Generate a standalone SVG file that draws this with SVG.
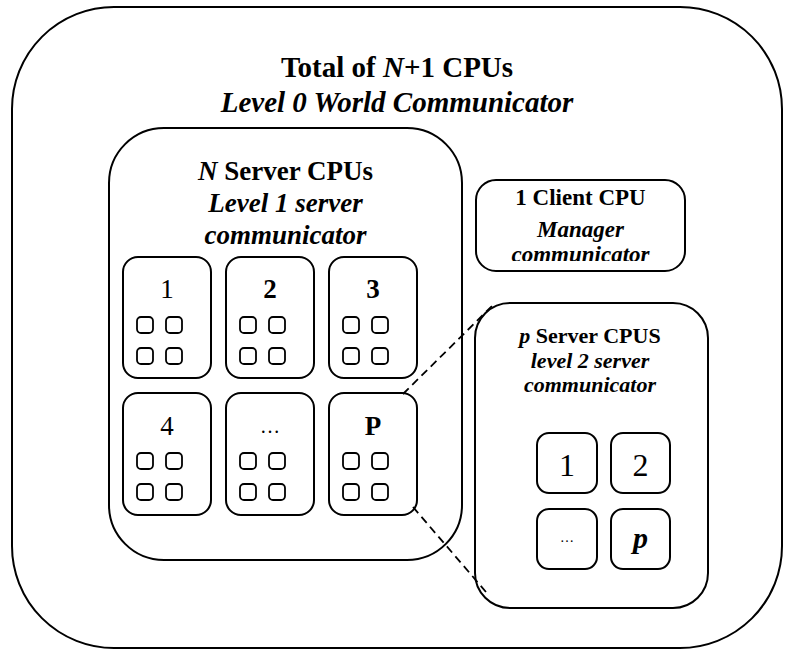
<svg xmlns="http://www.w3.org/2000/svg" width="788" height="650" viewBox="0 0 788 650">
<style>
.box{fill:none;stroke:#000;stroke-width:2}
.sq{fill:none;stroke:#000;stroke-width:1.8}
.t{font-family:"Liberation Serif","Times New Roman",serif;fill:#000;text-anchor:middle}
.b{font-weight:bold}
.i{font-style:italic}
.dash{fill:none;stroke:#000;stroke-width:1.8;stroke-dasharray:8 5}
</style>
<defs>
<g id="quad">
<rect class="sq" x="14" y="60" width="16" height="16" rx="4"/>
<rect class="sq" x="43" y="60" width="16" height="16" rx="4"/>
<rect class="sq" x="14" y="91" width="16" height="16" rx="4"/>
<rect class="sq" x="43" y="91" width="16" height="16" rx="4"/>
</g>
<clipPath id="clientClip"><rect x="476" y="180" width="209" height="81"/></clipPath>
</defs>
<rect width="788" height="650" fill="#fff"/>

<g id="world">
<rect class="box" x="12" y="7" width="770" height="641" rx="102"/>
<text class="t b" x="397" y="77" font-size="29">Total of <tspan class="i">N</tspan>+1 CPUs</text>
<text class="t b i" x="397" y="112" font-size="29">Level 0 World Communicator</text>
</g>

<g id="nserver">
<rect class="box" x="109" y="128" width="353" height="432" rx="55"/>
<text class="t b" x="285.5" y="180" font-size="27"><tspan class="i">N</tspan> Server CPUs</text>
<text class="t b i" x="285.5" y="212" font-size="27">Level 1 server</text>
<text class="t b i" x="285.5" y="244" font-size="27">communicator</text>
</g>

<g id="cpu1">
<rect class="box" x="123" y="257" width="88" height="121" rx="15"/>
<text class="t" x="167" y="298" font-size="27">1</text>
<use href="#quad" transform="translate(123,257)"/>
</g>
<g id="cpu2">
<rect class="box" x="226" y="257" width="88" height="121" rx="15"/>
<text class="t b" x="270" y="298" font-size="27">2</text>
<use href="#quad" transform="translate(226,257)"/>
</g>
<g id="cpu3">
<rect class="box" x="329" y="257" width="88" height="121" rx="15"/>
<text class="t b" x="373" y="298" font-size="27">3</text>
<use href="#quad" transform="translate(329,257)"/>
</g>
<g id="cpu4">
<rect class="box" x="123" y="393" width="88" height="122" rx="15"/>
<text class="t" x="167" y="435" font-size="27">4</text>
<use href="#quad" transform="translate(123,393)"/>
</g>
<g id="cpudots">
<rect class="box" x="226" y="393" width="88" height="122" rx="15"/>
<text class="t" x="270" y="433" font-size="20">…</text>
<use href="#quad" transform="translate(226,393)"/>
</g>
<g id="cpuP">
<rect class="box" x="329" y="393" width="88" height="122" rx="15"/>
<text class="t b" x="373" y="435" font-size="27">P</text>
<use href="#quad" transform="translate(329,393)"/>
</g>

<g id="client">
<rect class="box" x="476" y="180" width="209" height="91" rx="20"/>
<text class="t b" x="580.5" y="205" font-size="23">1 Client CPU</text>
<text class="t b i" x="580.5" y="237" font-size="23">Manager</text>
<text class="t b i" x="580.5" y="262" font-size="23" clip-path="url(#clientClip)">communicator</text>
</g>

<g id="pserver">
<rect class="box" x="475" y="303" width="233" height="305" rx="35"/>
<text class="t b" x="590" y="343" font-size="22"><tspan class="i">p</tspan> Server CPUS</text>
<text class="t b i" x="590" y="368" font-size="22">level 2 server</text>
<text class="t b i" x="590" y="392" font-size="22">communicator</text>
</g>
<g id="p1">
<rect class="box" x="537" y="433" width="60" height="60" rx="12"/>
<text class="t" x="567" y="476" font-size="32">1</text>
</g>
<g id="p2">
<rect class="box" x="611" y="433" width="59" height="60" rx="12"/>
<text class="t" x="640.5" y="476" font-size="32">2</text>
</g>
<g id="pdots">
<rect class="box" x="537" y="509" width="60" height="60" rx="12"/>
<text class="t" x="567" y="542" font-size="14">…</text>
</g>
<g id="pp">
<rect class="box" x="611" y="509" width="59" height="60" rx="12"/>
<text class="t b i" x="640.5" y="548" font-size="30">p</text>
</g>

<g id="connectors">
<line class="dash" x1="403" y1="394" x2="494" y2="304"/>
<line class="dash" x1="413" y1="507" x2="486" y2="592"/>
</g>
</svg>
